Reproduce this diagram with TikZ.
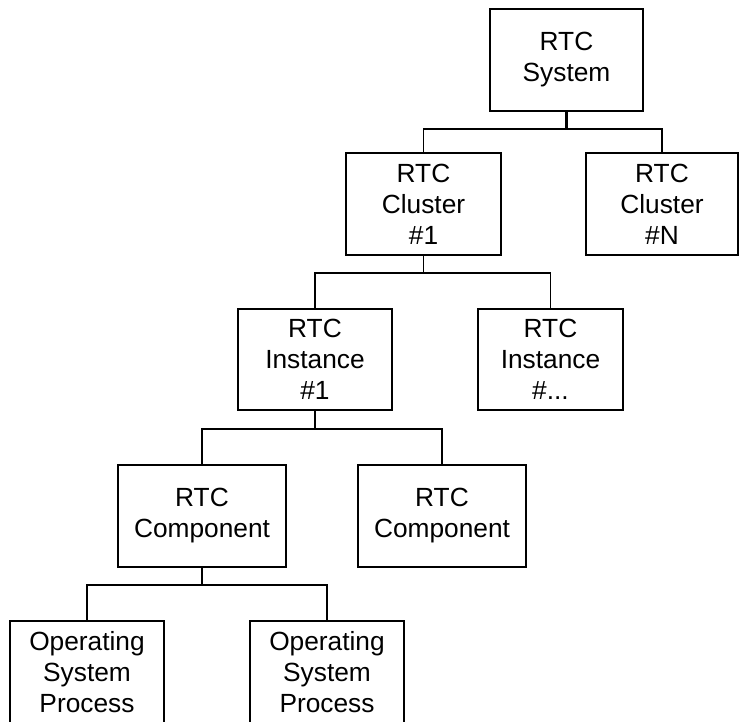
\documentclass[tikz,border=0pt]{standalone}
\usepackage{fontspec}
\setmainfont{Liberation Sans}
\begin{document}
\begin{tikzpicture}[x=1pt,y=-1pt,
  box/.style={draw=black,line width=1.9pt,fill=white,inner sep=0pt,align=center,
    minimum height=102pt,font=\fontsize{26.3}{31}\selectfont},
  conn/.style={draw=black,line width=1.9pt}]
\useasboundingbox (0,0) rectangle (739,721);
\clip (0,0) rectangle (739,721);
\node[box,minimum width=153pt] (sys) at (566.5,60) {RTC\\System};
\node[box,minimum width=155pt] (c1) at (423.5,204) {RTC\\Cluster\\\#1};
\node[box,minimum width=152pt] (cN) at (662,204) {RTC\\Cluster\\\#N};
\node[box,minimum width=154pt,minimum height=101pt] (i1) at (315,359.5) {RTC\\Instance\\\#1};
\node[box,minimum width=145pt,minimum height=101pt] (iN) at (550.5,359.5) {RTC\\Instance\\\#...};
\node[box,minimum width=168pt] (p1) at (202,516) {RTC\\Component};
\node[box,minimum width=168pt] (p2) at (442,516) {RTC\\Component};
\node[box,minimum width=154pt] (o1) at (87,672) {Operating\\System\\Process};
\node[box,minimum width=154pt] (o2) at (327,672) {Operating\\System\\Process};
\coordinate (j1) at (sys.south |- 0,129);
\coordinate (j2) at (c1.south |- 0,273);
\coordinate (j3) at (i1.south |- 0,429);
\coordinate (j4) at (p1.south |- 0,585);
\draw[conn,line width=2.7pt] (sys.south) -- (j1);
\draw[conn] (c1.north) |- (j1) -| (cN.north);
\draw[conn] (c1.south) -- (j2);
\draw[conn] (i1.north) |- (j2) -| (iN.north);
\draw[conn] (i1.south) -- (j3);
\draw[conn] (p1.north) |- (j3) -| (p2.north);
\draw[conn] (p1.south) -- (j4);
\draw[conn] (o1.north) |- (j4) -| (o2.north);
\end{tikzpicture}
\end{document}
